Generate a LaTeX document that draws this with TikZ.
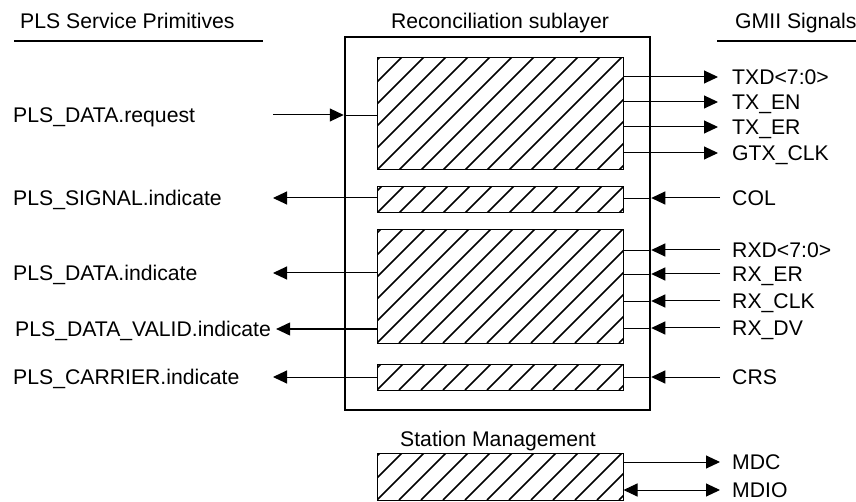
\documentclass[tikz,border=0pt]{standalone}
\usepackage{fontspec}
\setmainfont{Liberation Sans}
\usetikzlibrary{arrows.meta}

\begin{document}
\begin{tikzpicture}[x=1pt,y=-1pt,font=\fontsize{21.2}{25}\selectfont,
    outer/.style={draw,line width=2.5pt,inner sep=0pt},
    hbox/.style={draw,line width=1pt,inner sep=0pt,minimum width=246pt,
      path picture={\foreach \k in {-7,...,12}
        \draw[line width=1.7pt]([xshift=\k*22pt]path picture bounding box.south west)--++(140pt,140pt);}},
    arr/.style={-{Triangle[length=14pt,width=13pt]},line width=1pt},
    dbl/.style={{Triangle[length=14pt,width=13pt]}-{Triangle[length=14pt,width=13pt]},line width=1pt},
    lbl/.style={anchor=west,inner sep=0pt,text height=15.2pt,text depth=0pt},
    hdr/.style={line width=2pt}]
    \useasboundingbox (0,0) rectangle (856,502);
    % headings
    \node[lbl] (pls)  at (20,21)  {PLS Service Primitives};
    \node[lbl,anchor=center] (rsl) at (500,21) {Reconciliation sublayer};
    \node[lbl] (gmii) at (735,21) {GMII Signals};
    \draw[hdr] (14,41)--(263,41);
    \draw[hdr] (717,41)--(856,41);
    % sublayer and its blocks
    \node[outer,minimum width=305pt,minimum height=373pt] (rs) at (497.5,223.5) {};
    \node[hbox,minimum height=112pt] (tx)  at (500,114)   {};
    \node[hbox,minimum height=26pt]  (col) at (500,200)   {};
    \node[hbox,minimum height=113pt] (rx)  at (500,286.5) {};
    \node[hbox,minimum height=26pt]  (crs) at (500,377)   {};
    \node[lbl,anchor=center] (smt) at (498,439) {Station Management};
    \node[hbox,minimum height=47pt]  (sm)  at (500,476.5) {};
    \coordinate (ltip) at (273,0);
    % PLS primitives
    \node[lbl] (req)   at (13,115) {PLS\_DATA.request};
    \node[lbl] (sig)   at (13,198) {PLS\_SIGNAL.indicate};
    \node[lbl] (ind)   at (13,273) {PLS\_DATA.indicate};
    \node[lbl] (valid) at (15,329) {PLS\_DATA\_VALID.indicate};
    \node[lbl] (car)   at (13,377) {PLS\_CARRIER.indicate};
    \draw[arr](ltip |- req.west)--(rs.west |- req.west);
    \draw(rs.west |- req.west)--(tx.west |- req.west);
    \draw[arr](col.west |- sig.west)--(ltip |- sig.west);
    \draw[arr](rx.west |- ind.west)--(ltip |- ind.west);
    \draw[arr](rx.west |- valid.west)--([xshift=5pt]valid.east);
    \draw[arr](crs.west |- car.west)--(ltip |- car.west);
    % GMII signals
    \node[lbl] (txd)  at (732,77)  {TXD<7:0>};
    \node[lbl] (txen) at (732,102) {TX\_EN};
    \node[lbl] (txer) at (732,127) {TX\_ER};
    \node[lbl] (gtx)  at (732,153) {GTX\_CLK};
    \node[lbl] (cl)   at (732,198) {COL};
    \node[lbl] (rxd)  at (732,250) {RXD<7:0>};
    \node[lbl] (rxer) at (732,274) {RX\_ER};
    \node[lbl] (rxck) at (732,301) {RX\_CLK};
    \node[lbl] (rxdv) at (732,328) {RX\_DV};
    \node[lbl] (cr)   at (732,377) {CRS};
    \node[lbl] (mdc)  at (732,462) {MDC};
    \node[lbl] (mdio) at (732,490) {MDIO};
    \foreach \s in {txd,txen,txer,gtx}
      \draw[arr](tx.east |- \s.west)--([xshift=-14pt]\s.west);
    \foreach \s/\b in {cl/col,rxd/rx,rxer/rx,rxck/rx,rxdv/rx,cr/crs}{
      \draw[arr]([xshift=-12pt]\s.west)--(rs.east |- \s.west);
      \draw(rs.east |- \s.west)--(\b.east |- \s.west);}
    \draw[arr](sm.east |- mdc.west)--([xshift=-12pt]mdc.west);
    \draw[dbl](sm.east |- mdio.west)--([xshift=-12pt]mdio.west);
  \end{tikzpicture}
\end{document}
